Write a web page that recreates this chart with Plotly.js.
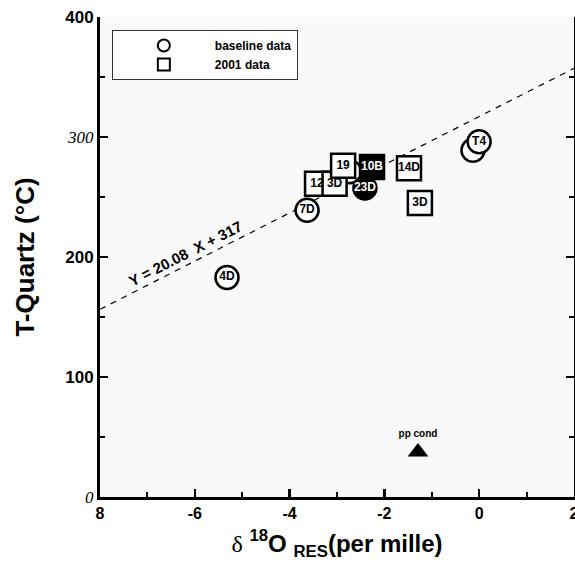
<!DOCTYPE html>
<html>
<head>
<meta charset="utf-8">
<script src="https://cdn.plot.ly/plotly-3.0.1.min.js"></script>
<style>html,body{margin:0;padding:0;background:#fff;}#chart{width:575px;height:567px;}</style>
</head>
<body>
<div id="chart"></div>
<script>
// Baseline data (circles)
const baseX = [-5.32, -3.63, -2.73, -0.13, 0.0, -2.41];
const baseY = [183, 239, 271, 289, 296, 257.5];
const baseLabels = ["4D", "7D", "", "", "T4", "23D"];
const baseFilled = [false, false, false, false, false, true];

// 2001 data (squares)
const newX = [-3.42, -3.05, -2.87, -1.48, -1.25, -2.26];
const newY = [261, 261, 276, 274, 245, 275];
const newLabels = ["12", "3D", "19", "14D", "3D", "10B"];
const newFilled = [false, false, false, false, false, true];

// pp condensate
const ppX = [-1.29];
const ppY = [37.5];
const ppLabel = ["<b>pp cond</b>"];

// regression line endpoints
const fitX = [-8, 2];
const fitY = [156.4, 357.2];
const fitText = "Y = 20.08  X + 317";

// ticks
const xTickVals = [-8, -6, -4, -2, 0, 2];
const xTickText = ["8", "-6", "-4", "-2", "0", "2"];
const yTickVals = [0, 100, 200, 300, 400];
const yTickText = [
  "<span style='font-family:Liberation Serif;font-style:italic;font-weight:normal'>0</span>",
  "100", "200",
  "<span style='font-family:Liberation Serif;font-style:italic;font-weight:normal'>300</span>",
  "400"];

const fillOf = f => f.map(v => v ? "#000" : "#fff");
const txtOf = f => f.map(v => v ? "#fff" : "#000");

const traces = [
  {
    x: fitX, y: fitY, mode: "lines", showlegend: false, hoverinfo: "skip",
    line: {color: "#000", width: 1.2, dash: "6px,6px"}
  },
  {
    name: "baseline data", x: baseX, y: baseY, text: baseLabels,
    mode: "markers+text", textposition: "middle center",
    textfont: {family: "Arial", size: 12, weight: "bold", color: txtOf(baseFilled)},
    marker: {symbol: "circle", size: 23, color: fillOf(baseFilled), line: {color: "#000", width: 2.5}}
  },
  {
    name: "2001 data", x: newX, y: newY, text: newLabels,
    mode: "markers+text", textposition: "middle center",
    textfont: {family: "Arial", size: 12, weight: "bold", color: txtOf(newFilled)},
    marker: {symbol: "square", size: 24, color: fillOf(newFilled), line: {color: "#000", width: 2.5}}
  },
  {
    x: ppX, y: ppY, text: ppLabel, mode: "markers+text", textposition: "top center",
    showlegend: false,
    textfont: {family: "Arial", size: 10, color: "#000"},
    marker: {symbol: "triangle-up", size: 18, color: "#000"}
  }
];

const layout = {
  width: 575, height: 567,
  margin: {l: 100, r: 1, t: 17, b: 70},
  paper_bgcolor: "#ffffff",
  plot_bgcolor: "#f9f9f9",
  font: {family: "Arial", color: "#000"},
  showlegend: true,
  legend: {
    x: 0.025, y: 0.973, xanchor: "left", yanchor: "top",
    bgcolor: "#fff", bordercolor: "#333", borderwidth: 1,
    font: {family: "Arial", size: 12, weight: "bold"},
    itemsizing: "constant", itemwidth: 92, tracegroupgap: 0
  },
  xaxis: {
    range: [-8, 2.002], tickmode: "array", tickvals: xTickVals, ticktext: xTickText,
    ticklabeloverflow: "allow",
    ticks: "inside", ticklen: 8, tickwidth: 2.5, tickcolor: "#000",
    minor: {dtick: 1, ticks: "inside", ticklen: 5, tickwidth: 2, tickcolor: "#000"},
    showline: true, linewidth: 3, linecolor: "#000", mirror: false,
    showgrid: false, zeroline: false,
    tickfont: {family: "Arial", size: 16, weight: "bold"},
    title: {
      text: "<span style='font-family:Liberation Serif;font-weight:normal'>δ</span> <sup>18</sup>O <sub>RES</sub>(per mille)",
      font: {family: "Arial", size: 24, weight: "bold"}, standoff: 14
    }
  },
  xaxis2: {
    overlaying: "x", side: "top", range: [-0.95, 6.95], dtick: 1, tick0: 0,
    ticks: "inside", ticklen: 7, tickwidth: 2.5, tickcolor: "#000",
    showticklabels: false, showgrid: false, zeroline: false,
    showline: true, linewidth: 3, linecolor: "#000"
  },
  yaxis: {
    range: [0, 400], tickmode: "array", tickvals: yTickVals, ticktext: yTickText,
    ticks: "inside", ticklen: 8, tickwidth: 2.5, tickcolor: "#000",
    minor: {dtick: 50, ticks: "inside", ticklen: 5, tickwidth: 2, tickcolor: "#000"},
    showline: true, linewidth: 3, linecolor: "#000", mirror: "ticks",
    showgrid: false, zeroline: false,
    tickfont: {family: "Arial", size: 17, weight: "bold"},
    title: {text: "T-Quartz (°C)", font: {family: "Arial", size: 26, weight: "bold"}, standoff: 24}
  },
  annotations: [{
    x: -6.2, y: 203, xref: "x", yref: "y", text: fitText, showarrow: false,
    textangle: -27, font: {family: "Arial", size: 15, weight: "bold"}
  }]
};

Plotly.newPlot("chart", traces, layout, {displayModeBar: false, staticPlot: true});
</script>
</body>
</html>
